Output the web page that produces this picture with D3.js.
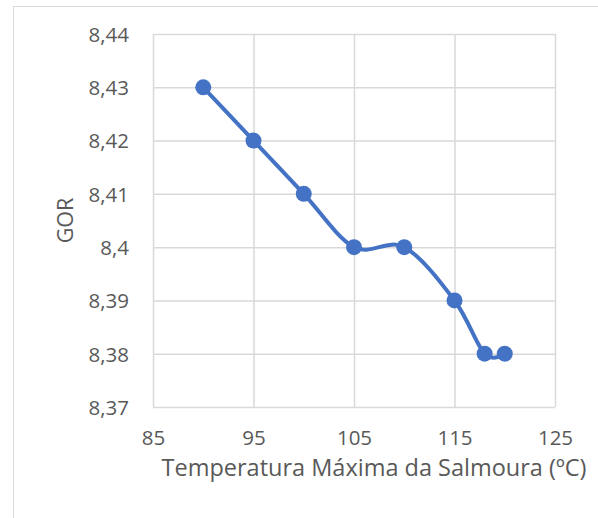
<!DOCTYPE html>
<html>
<head>
<meta charset="utf-8">
<script src="https://cdn.jsdelivr.net/npm/d3@7"></script>
<style>
  html, body { margin: 0; padding: 0; background: #fff; }
  svg { display: block; }
</style>
</head>
<body>
<svg id="chart" width="598" height="518"></svg>
<script>
// Brine maximum temperature vs GOR
const temperatures = [90, 95, 100, 105, 110, 115, 118, 120];
const gorValues = [8.43, 8.42, 8.41, 8.40, 8.40, 8.39, 8.38, 8.38];
const xTicks = [85, 95, 105, 115, 125];
const yTicks = [8.37, 8.38, 8.39, 8.40, 8.41, 8.42, 8.43, 8.44];
const xTitle = "Temperatura Máxima da Salmoura (ºC)";
const yTitle = "GOR";

const svg = d3.select("#chart");
const font = "'Open Sans', 'Noto Sans', sans-serif";
const textColor = "#595959";
const gridColor = "#d9d9d9";

// chart border
svg.append("rect")
  .attr("x", 13.5).attr("y", 6.5)
  .attr("width", 620).attr("height", 540)
  .attr("fill", "none").attr("stroke", "#d9d9d9").attr("stroke-width", 1);

const plot = { left: 153, right: 555, top: 34, bottom: 407 };

const x = d3.scaleLinear().domain([85, 125]).range([plot.left, plot.right]);
const y = d3.scaleLinear().domain([8.37, 8.44]).range([plot.bottom, plot.top]);

const fmt = d => d3.format(".2f")(d).replace(".", ",").replace(/0$/, "").replace(/,$/, "");

// gridlines
svg.append("g")
  .attr("transform", `translate(0,${plot.bottom})`)
  .call(d3.axisBottom(x).tickValues(xTicks).tickSize(-(plot.bottom - plot.top)).tickFormat(""))
  .call(g => g.select(".domain").remove())
  .call(g => g.selectAll("line").attr("stroke", gridColor).attr("stroke-width", 1.5));

svg.append("g")
  .attr("transform", `translate(${plot.left},0)`)
  .call(d3.axisLeft(y).tickValues(yTicks).tickSize(-(plot.right - plot.left)).tickFormat(""))
  .call(g => g.select(".domain").remove())
  .call(g => g.selectAll("line").attr("stroke", gridColor).attr("stroke-width", 1.5));

// tick labels
svg.append("g")
  .attr("transform", `translate(${plot.left - 24},0)`)
  .call(d3.axisLeft(y).tickValues(yTicks).tickSize(0).tickPadding(0).tickFormat(fmt))
  .call(g => g.select(".domain").remove())
  .call(g => g.selectAll("text")
    .attr("font-family", font).attr("font-size", 20.5).attr("fill", textColor)
    .attr("dy", "0.36em"));

svg.append("g")
  .attr("transform", `translate(0,${plot.bottom + 23})`)
  .call(d3.axisBottom(x).tickValues(xTicks).tickSize(0).tickPadding(0).tickFormat(d3.format("d")))
  .call(g => g.select(".domain").remove())
  .call(g => g.selectAll("text")
    .attr("font-family", font).attr("font-size", 20.5).attr("fill", textColor)
    .attr("dy", "0.71em"));

// axis titles
svg.append("text")
  .attr("x", 374).attr("y", 476)
  .attr("text-anchor", "middle")
  .attr("font-family", font).attr("font-size", 23.5).attr("fill", textColor)
  .text(xTitle);

svg.append("text")
  .attr("transform", `translate(73,${(plot.top + plot.bottom) / 2}) rotate(-90)`)
  .attr("text-anchor", "middle")
  .attr("font-family", font).attr("font-size", 21.5).attr("fill", textColor)
  .text(yTitle);

// series
const data = temperatures.map((t, i) => ({ t, g: gorValues[i] }));
const line = d3.line()
  .x(d => x(d.t)).y(d => y(d.g))
  .curve(d3.curveCardinal.tension(0));

svg.append("path")
  .datum(data)
  .attr("d", line)
  .attr("fill", "none")
  .attr("stroke", "#4472C4")
  .attr("stroke-width", 4)
  .attr("stroke-linejoin", "round");

svg.append("g").selectAll("circle")
  .data(data).join("circle")
  .attr("cx", d => x(d.t)).attr("cy", d => y(d.g))
  .attr("r", 8)
  .attr("fill", "#4472C4");
</script>
</body>
</html>
